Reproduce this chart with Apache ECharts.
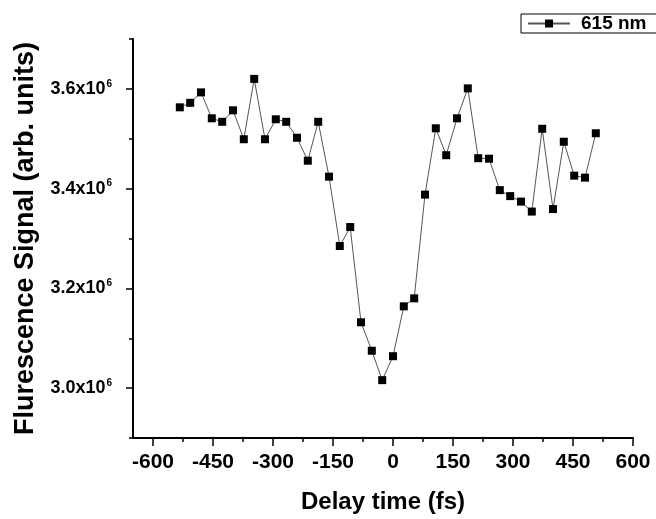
<!DOCTYPE html>
<html lang="en">
<head>
    <meta charset="UTF-8">
    <title>Fluorescence vs delay</title>
    <style>
        html, body { margin: 0; width: 100%; height: 100%; background: #fff; overflow: hidden; }
        #main { width: 656px; height: 519px; }
    </style>
</head>
<body>
<div id="main"></div>
<script src="https://cdn.jsdelivr.net/npm/echarts@6/dist/echarts.min.js"></script>
<script>
    // delay time (fs) and signal
    var delay = [-533, -507, -480, -453, -427, -400, -373, -347, -320, -293,
        -267, -240, -213, -187, -160, -133, -107, -80, -53, -27,
        0, 27, 53, 80, 107, 133, 160, 187, 213, 240,
        267, 293, 320, 347, 373, 400, 427, 453, 480, 507];
    var signal = [3.563e6, 3.572e6, 3.593e6, 3.541e6, 3.534e6, 3.557e6, 3.499e6, 3.620e6, 3.499e6, 3.539e6,
        3.534e6, 3.502e6, 3.456e6, 3.534e6, 3.424e6, 3.285e6, 3.323e6, 3.132e6, 3.075e6, 3.016e6,
        3.064e6, 3.164e6, 3.180e6, 3.388e6, 3.521e6, 3.467e6, 3.541e6, 3.601e6, 3.461e6, 3.460e6,
        3.397e6, 3.385e6, 3.374e6, 3.354e6, 3.520e6, 3.359e6, 3.494e6, 3.426e6, 3.422e6, 3.511e6];

    var xMajor = [-600, -450, -300, -150, 0, 150, 300, 450, 600];
    var xMinor = [-525, -375, -225, -75, 75, 225, 375, 525];
    var yMajor = [3.0e6, 3.2e6, 3.4e6, 3.6e6];
    var yMinor = [2.9e6, 3.1e6, 3.3e6, 3.5e6, 3.7e6];

    var font = "'Liberation Sans', Arial, sans-serif";
    var black = '#000';

    var myChart = echarts.init(document.getElementById('main'));

    var option = {
        backgroundColor: '#fff',
        animation: false,
        textStyle: { fontFamily: font },
        grid: { left: 133, right: 23, top: 39, bottom: 76 },
        legend: {
            data: ['615 nm'],
            left: 521,
            top: 14,
            padding: [0, 20, 0, 6],
            borderColor: black,
            borderWidth: 1,
            itemWidth: 42,
            itemHeight: 10,
            itemGap: 6,
            textStyle: { fontSize: 19, fontWeight: 'bold', color: black, fontFamily: font, padding: [0, 0, 0, 6] }
        },
        xAxis: [{
            type: 'value',
            min: -650,
            max: 600,
            position: 'bottom',
            name: 'Delay time (fs)',
            nameLocation: 'middle',
            nameGap: 52,
            nameTextStyle: { fontSize: 24, fontWeight: 'bold', color: black, fontFamily: font },
            axisLine: { onZero: false, lineStyle: { color: black, width: 2 } },
            axisTick: { customValues: xMajor, length: 8, lineStyle: { color: black, width: 1.5 } },
            axisLabel: {
                customValues: xMajor,
                margin: 14,
                fontSize: 21,
                fontWeight: 'bold',
                color: black,
                fontFamily: font
            },
            splitLine: { show: false }
        }, {
            type: 'value',
            min: -650,
            max: 600,
            position: 'bottom',
            axisLine: { show: false, onZero: false },
            axisTick: { customValues: xMinor, length: 4, lineStyle: { color: black, width: 1.5 } },
            axisLabel: { show: false },
            splitLine: { show: false }
        }],
        yAxis: [{
            type: 'value',
            min: 2.9e6,
            max: 3.7e6,
            position: 'left',
            name: 'Flurescence Signal (arb. units)',
            nameLocation: 'middle',
            nameGap: 93,
            nameTextStyle: { fontSize: 27, fontWeight: 'bold', color: black, fontFamily: font },
            axisLine: { onZero: false, lineStyle: { color: black, width: 2 } },
            axisTick: { customValues: yMajor, length: 7, lineStyle: { color: black, width: 1.5 } },
            axisLabel: {
                customValues: yMajor,
                margin: 21,
                formatter: function (v) {
                    return '{a|' + (v / 1e6).toFixed(1) + 'x10}{b|6}';
                },
                rich: {
                    a: { fontSize: 18, fontWeight: 'bold', color: black, fontFamily: font, lineHeight: 20 },
                    b: { fontSize: 10, fontWeight: 'bold', color: black, fontFamily: font, verticalAlign: 'top', padding: [0, 0, 0, 1] }
                }
            },
            splitLine: { show: false }
        }, {
            type: 'value',
            min: 2.9e6,
            max: 3.7e6,
            position: 'left',
            axisLine: { show: false, onZero: false },
            axisTick: { customValues: yMinor, length: 4, lineStyle: { color: black, width: 1.5 } },
            axisLabel: { show: false },
            splitLine: { show: false }
        }],
        series: [{
            name: '615 nm',
            type: 'line',
            xAxisIndex: 0,
            yAxisIndex: 0,
            data: delay.map(function (d, i) {
                return [d, signal[i]];
            }),
            symbol: 'rect',
            symbolSize: 8,
            itemStyle: { color: black },
            lineStyle: { color: '#555', width: 1 }
        }]
    };

    myChart.setOption(option);
</script>
</body>
</html>
